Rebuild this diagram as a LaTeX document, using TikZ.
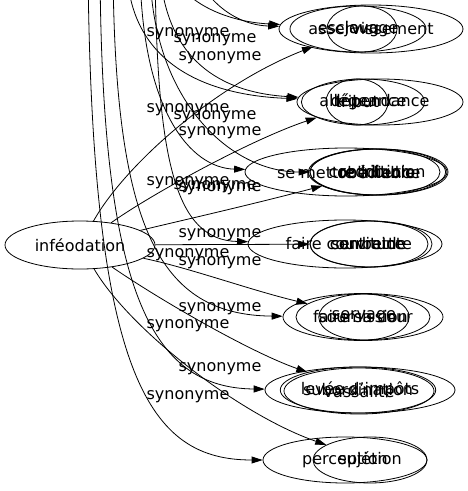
\documentclass[tikz,border=0pt]{standalone}
\usepackage{fontspec}
\setmainfont{DejaVu Sans}
\usetikzlibrary{shapes.geometric,arrows.meta}
\begin{document}
\begin{tikzpicture}[x=1pt,y=-1pt,
  font=\fontsize{16}{19}\selectfont,
  nd/.style={ellipse,draw,line width=0.8pt,inner sep=0pt},
  lab/.style={inner sep=0pt},
  arr/.style={-{Triangle[length=11pt,width=7pt]},line width=0.8pt}]
\clip (0,0) rectangle (468,491);
% main node
\node[nd,minimum width=150pt,minimum height=48pt] (inf) at (80,245) {inféodation};
% group 1
\node[nd,minimum width=184pt,minimum height=48pt] (g1a) at (371,29) {asservissement};
\node[nd,minimum width=136pt,minimum height=46pt] (g1b) at (358,29) {esclavage};
\node[nd,minimum width=70pt,minimum height=46pt] (g1c) at (362,29) {joug};
% group 2
\node[nd,minimum width=166pt,minimum height=46pt] (g2a) at (380,102) {dépendance};
\node[nd,minimum width=122pt,minimum height=46pt] (g2b) at (363,102) {allégeance};
\node[nd,minimum width=62pt,minimum height=46pt] (g2c) at (357,102) {tribut};
% group 3
\node[nd,minimum width=202pt,minimum height=48pt] (g3a) at (346,172) {se mettre à table};
\node[nd,minimum width=130pt,minimum height=46pt] (g3b) at (375,172) {reddition};
\node[nd,minimum width=136pt,minimum height=46pt] (g3c) at (377,172) {contribution};
\node[nd,minimum width=138pt,minimum height=46pt] (g3d) at (379,172) {obédience};
% group 4
\node[nd,minimum width=194pt,minimum height=48pt] (g4a) at (345,244) {faire courbette};
\node[nd,minimum width=118pt,minimum height=46pt] (g4b) at (369,244) {servitude};
\node[nd,minimum width=122pt,minimum height=46pt] (g4c) at (371,244) {contrainte};
% group 5
\node[nd,minimum width=160pt,minimum height=47pt] (g5a) at (363,317) {faire sa cour};
\node[nd,minimum width=134pt,minimum height=46pt] (g5b) at (363,317) {soumission};
\node[nd,minimum width=86pt,minimum height=46pt] (g5c) at (364,317) {servage};
% group 6
\node[nd,minimum width=190pt,minimum height=46pt] (g6a) at (360,390) {levée d'impôts};
\node[nd,minimum width=146pt,minimum height=46pt] (g6b) at (358,390) {subordination};
\node[nd,minimum width=150pt,minimum height=46pt] (g6c) at (359,391) {vassalité};
% group 7
\node[nd,minimum width=164pt,minimum height=46pt] (g7a) at (345,460) {perception};
\node[nd,minimum width=114pt,minimum height=46pt] (g7b) at (370,460) {sujétion};
% edge labels
\node[lab] (l1) at (220,58) {synonyme};
\node[lab] (l2) at (220,133) {synonyme};
\node[lab] (l3) at (220,189) {synonyme};
\node[lab] (l4) at (220,235) {synonyme};
\node[lab] (l5) at (220,263) {synonyme};
\node[lab] (l6) at (220,309) {synonyme};
\node[lab] (l7) at (220,369) {synonyme};
\node[lab] (t1a) at (188,34) {synonyme};
\node[lab] (t1b) at (215,40) {synonyme};
\node[lab] (t2a) at (188,110) {synonyme};
\node[lab] (t2b) at (215,117) {synonyme};
\node[lab] (t3a) at (188,183) {synonyme};
\node[lab] (t3b) at (215,187) {synonyme};
\node[lab] (t4) at (188,255) {synonyme};
\node[lab] (t5) at (188,326) {synonyme};
\node[lab] (t6) at (188,397) {synonyme};
% edges from inféodation
\draw[arr] (inf) .. controls (125,165) and (215,85) .. (g1b);
\draw[arr] (inf) .. controls (150,195) and (250,140) .. (g2b);
\draw[arr] (inf) .. controls (175,222) and (250,205) .. (g3b);
\draw[arr] (inf) -- (g4b);
\draw[arr] (inf) .. controls (190,268) and (250,290) .. (g5b);
\draw[arr] (inf) .. controls (160,300) and (250,352) .. (g6b);
\draw[arr] (inf) .. controls (130,330) and (240,415) .. (g7b);
% edges coming from nodes above the picture
\coordinate (s1a) at (170,-30);
\coordinate (s1b) at (195,-30);
\coordinate (s2a) at (127,-30);
\coordinate (s2b) at (160,-30);
\coordinate (s3a) at (140,-30);
\coordinate (s3b) at (150,-30);
\coordinate (s4) at (155,-30);
\coordinate (s5) at (113,-30);
\coordinate (s6) at (100,-30);
\coordinate (s7) at (88,-30);
\draw[arr] (s1a) .. controls (185,5) and (230,22) .. (g1a);
\draw[arr] (s1b) .. controls (205,0) and (235,25) .. (g1a);
\draw[arr] (s2a) .. controls (130,60) and (200,95) .. (g2a);
\draw[arr] (s2b) .. controls (165,50) and (210,92) .. (g2a);
\draw[arr] (s3a) .. controls (142,110) and (190,168) .. (g3a);
\draw[arr] (s3b) .. controls (152,100) and (230,172) .. (g3b);
\draw[arr] (s4) .. controls (157,160) and (175,240) .. (g4a);
\draw[arr] (s5) .. controls (115,230) and (160,315) .. (g5a);
\draw[arr] (s6) .. controls (102,290) and (150,388) .. (g6a);
\draw[arr] (s7) .. controls (92,380) and (150,460) .. (g7a);
\end{tikzpicture}
\end{document}
